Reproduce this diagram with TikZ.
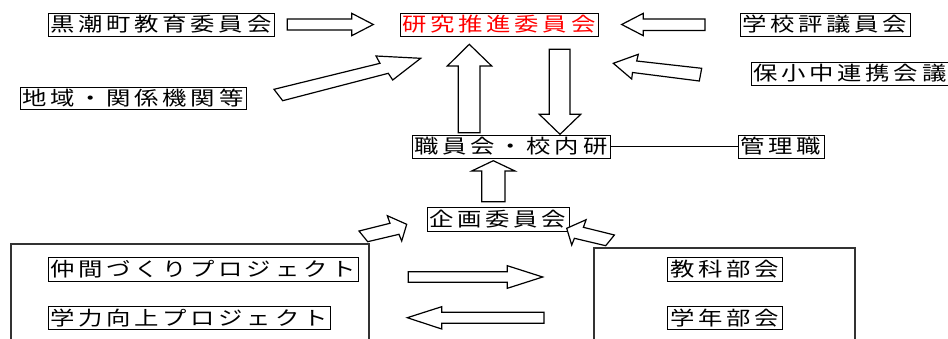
\documentclass[tikz,border=0pt]{standalone}
\usepackage{fontspec}
\newfontfamily\jp{Noto Sans CJK JP}[FakeStretch=1.25]
\newcommand\jgap{3.7pt}
\def\jsp#1{\jspA#1\relax}
\def\jspA#1{#1\jspB}
\def\jspB#1{\ifx\relax#1\else\kern\jgap#1\expandafter\jspB\fi}
\tikzset{
  lbl/.style={draw, line width=0.9pt, inner sep=0pt, minimum height=23pt,
    font=\jp\fontsize{19.5pt}{20pt}\selectfont, text=black},
  blk/.style={draw, line width=1.2pt, fill=white, line join=miter},
  bigbox/.style={draw=black!80, line width=1.3pt}
}
\begin{document}
\begin{tikzpicture}[x=1pt, y=-1pt]
\clip (0,0) rectangle (948,338);
\fill[white] (0,0) rectangle (948,338);
% big boxes
\draw[bigbox] (11,244) rectangle (369,360);
\draw[bigbox] (594,248) rectangle (855,360);
% nodes
\node[lbl, minimum width=226pt] (kuro) at (161,24.5) {\jsp{黒潮町教育委員会}};
\node[lbl, minimum width=198pt, text=red] (ken) at (499,24.5) {\jsp{研究推進委員会}};
\node[lbl, minimum width=170pt] (gakko) at (825,24.5) {\jsp{学校評議員会}};
\node[lbl, minimum width=198pt] (hosho) at (850,73.5) {\jsp{保小中連携会議}};
\node[lbl, minimum width=226pt, minimum height=22pt] (chiiki) at (133,98) {\jsp{地域・関係機関等}};
\node[lbl, minimum width=198pt] (shoku) at (511,146.5) {\jsp{職員会・校内研}};
\node[lbl, minimum width=86pt] (kanri) at (781,146.5) {\jsp{管理職}};
\node[lbl, minimum width=142pt, minimum height=24pt] (kikaku) at (498,219.5) {\jsp{企画委員会}};
\node[lbl, minimum width=310pt, minimum height=24pt] (naka) at (203,269) {\jsp{仲間づくりプロジェクト}};
\node[lbl, minimum width=282pt] (gaku) at (189,317.7) {\jsp{学力向上プロジェクト}};
\node[lbl, minimum width=115pt, minimum height=24pt] (kyoka) at (724.5,269) {\jsp{教科部会}};
\node[lbl, minimum width=115pt] (gakunen) at (724.5,317.7) {\jsp{学年部会}};
% connector line
\draw[line width=0.9pt] (shoku.east) -- (kanri.west);
% block arrows
\draw[blk] (287.3,19) -- (351.7,19) -- (351.7,13.3) -- (373.3,24.5) -- (351.7,35.7) -- (351.7,30) -- (287.3,30) -- cycle;
\draw[blk] (705,19) -- (643.3,19) -- (643.3,13.3) -- (621.7,24.5) -- (643.3,35.7) -- (643.3,30.5) -- (705,30.5) -- cycle;
\draw[blk] (274,89.3) -- (380,63.3) -- (376,56) -- (420.7,58.3) -- (392.7,80) -- (388.3,73.3) -- (282.7,100.7) -- cycle;
\draw[blk] (701.7,68.3) -- (636.7,61) -- (638.3,54.3) -- (613.3,63.3) -- (631.7,79) -- (632.5,72.5) -- (699.3,81) -- cycle;
\draw[blk] (458.3,132.7) -- (458.3,66) -- (447.3,66) -- (469.3,44.3) -- (491.7,66) -- (480,66) -- (480,132.7) -- cycle;
\draw[blk] (549.3,49.3) -- (570,49.3) -- (570,114.3) -- (580.7,114.3) -- (560,134.3) -- (539.3,114.3) -- (549.3,114.3) -- cycle;
\draw[blk] (481.7,201.7) -- (481.7,171) -- (471.7,171) -- (493.3,160.7) -- (515,171) -- (505,171) -- (505,201.7) -- cycle;
\draw[blk] (359,231) -- (390,223.3) -- (387.3,215.7) -- (406.7,224.3) -- (401.7,241) -- (399,234.3) -- (367.7,241.7) -- cycle;
\draw[blk] (614.4,235) -- (583.4,227.3) -- (586.1,219.7) -- (566.7,228.3) -- (571.7,245) -- (574.4,238.3) -- (605.7,245.7) -- cycle;
\draw[blk] (408.3,271.7) -- (507.3,271.7) -- (507.3,265.7) -- (542.7,277) -- (507.3,288.3) -- (507.3,282.3) -- (408.3,282.3) -- cycle;
\draw[blk] (544,312.3) -- (441.7,312.3) -- (441.7,306.7) -- (407.3,317.7) -- (441.7,329) -- (441.7,323.3) -- (544,323.3) -- cycle;
\end{tikzpicture}
\end{document}
